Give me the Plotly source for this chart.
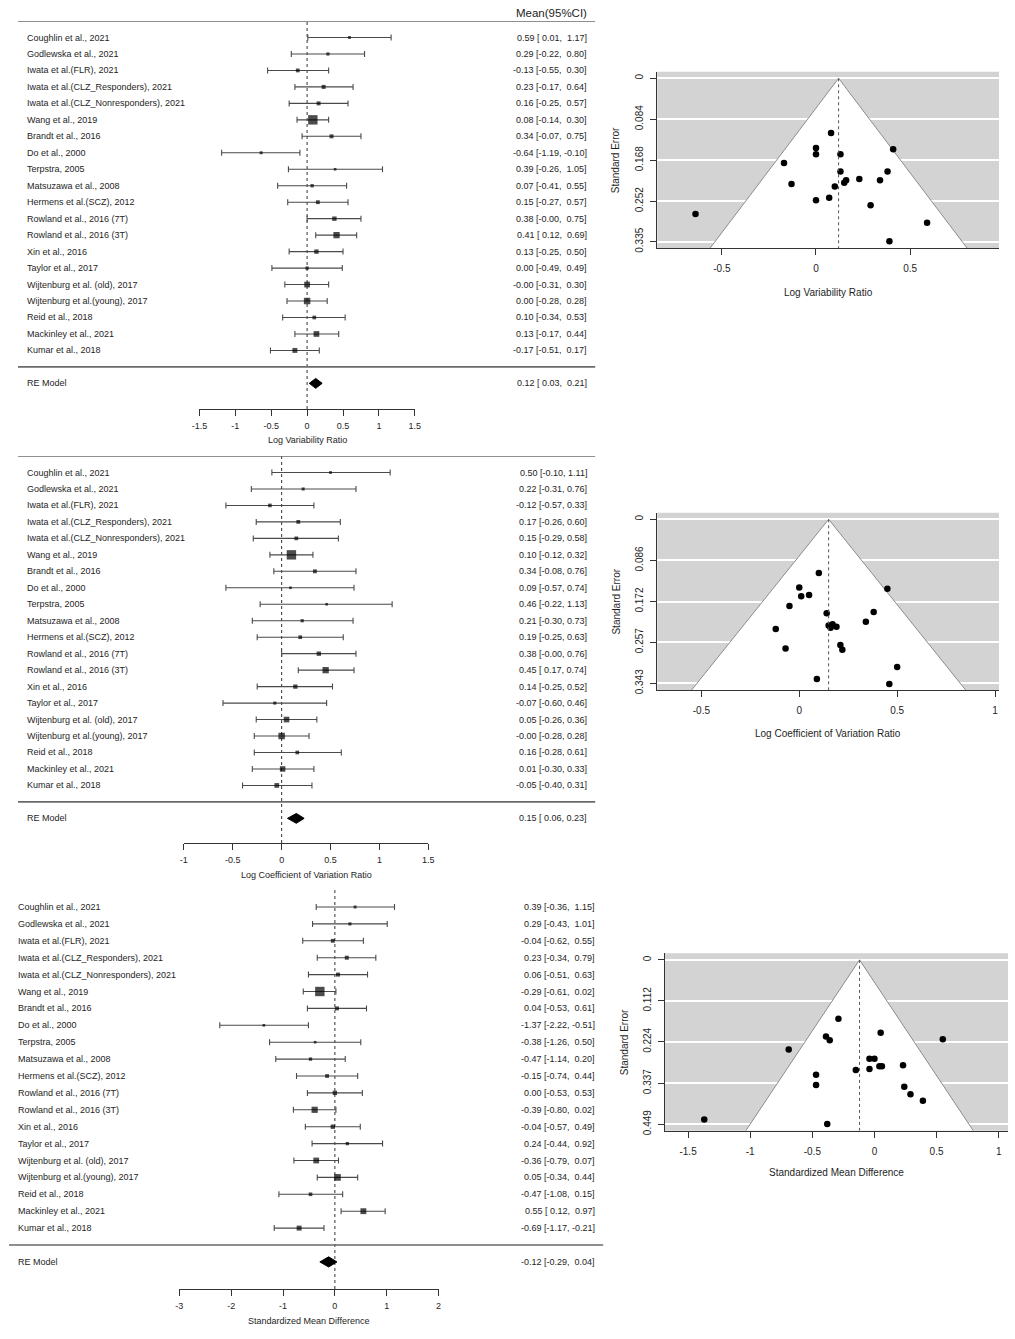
import plotly.graph_objects as go

W, H = 1015, 1339

# ---------------- data ----------------
studies = [
    "Coughlin et al., 2021", "Godlewska et al., 2021", "Iwata et al.(FLR), 2021",
    "Iwata et al.(CLZ_Responders), 2021", "Iwata et al.(CLZ_Nonresponders), 2021",
    "Wang et al., 2019", "Brandt et al., 2016", "Do et al., 2000", "Terpstra, 2005",
    "Matsuzawa et al., 2008", "Hermens et al.(SCZ), 2012", "Rowland et al., 2016 (7T)",
    "Rowland et al., 2016 (3T)", "Xin et al., 2016", "Taylor et al., 2017",
    "Wijtenburg et al. (old), 2017", "Wijtenburg et al.(young), 2017", "Reid et al., 2018",
    "Mackinley et al., 2021", "Kumar et al., 2018",
]

lvr_est = [0.59, 0.29, -0.13, 0.23, 0.16, 0.08, 0.34, -0.64, 0.39, 0.07,
           0.15, 0.38, 0.41, 0.13, 0.00, -0.0, 0.00, 0.10, 0.13, -0.17]
lvr_lo = [0.01, -0.22, -0.55, -0.17, -0.25, -0.14, -0.07, -1.19, -0.26, -0.41,
          -0.27, -0.0, 0.12, -0.25, -0.49, -0.31, -0.28, -0.34, -0.17, -0.51]
lvr_hi = [1.17, 0.80, 0.30, 0.64, 0.57, 0.30, 0.75, -0.10, 1.05, 0.55,
          0.57, 0.75, 0.69, 0.50, 0.49, 0.30, 0.28, 0.53, 0.44, 0.17]
lvr_re = [0.12, 0.03, 0.21]

lcvr_est = [0.50, 0.22, -0.12, 0.17, 0.15, 0.10, 0.34, 0.09, 0.46, 0.21,
            0.19, 0.38, 0.45, 0.14, -0.07, 0.05, -0.0, 0.16, 0.01, -0.05]
lcvr_lo = [-0.10, -0.31, -0.57, -0.26, -0.29, -0.12, -0.08, -0.57, -0.22, -0.30,
           -0.25, -0.0, 0.17, -0.25, -0.60, -0.26, -0.28, -0.28, -0.30, -0.40]
lcvr_hi = [1.11, 0.76, 0.33, 0.60, 0.58, 0.32, 0.76, 0.74, 1.13, 0.73,
           0.63, 0.76, 0.74, 0.52, 0.46, 0.36, 0.28, 0.61, 0.33, 0.31]
lcvr_re = [0.15, 0.06, 0.23]

smd_est = [0.39, 0.29, -0.04, 0.23, 0.06, -0.29, 0.04, -1.37, -0.38, -0.47,
           -0.15, 0.00, -0.39, -0.04, 0.24, -0.36, 0.05, -0.47, 0.55, -0.69]
smd_lo = [-0.36, -0.43, -0.62, -0.34, -0.51, -0.61, -0.53, -2.22, -1.26, -1.14,
          -0.74, -0.53, -0.80, -0.57, -0.44, -0.79, -0.34, -1.08, 0.12, -1.17]
smd_hi = [1.15, 1.01, 0.55, 0.79, 0.63, 0.02, 0.61, -0.51, 0.50, 0.20,
          0.44, 0.53, 0.02, 0.49, 0.92, 0.07, 0.44, 0.15, 0.97, -0.21]
smd_re = [-0.12, -0.29, 0.04]

forest1_ticks = [-1.5, -1, -0.5, 0, 0.5, 1, 1.5]
forest2_ticks = [-1, -0.5, 0, 0.5, 1, 1.5]
forest3_ticks = [-3, -2, -1, 0, 1, 2]
funnel1_xticks = [-0.5, 0, 0.5]
funnel2_xticks = [-0.5, 0, 0.5, 1]
funnel3_xticks = [-1.5, -1, -0.5, 0, 0.5, 1]
funnel1_yticks = ["0", "0.084", "0.168", "0.252", "0.335"]
funnel2_yticks = ["0", "0.086", "0.172", "0.257", "0.343"]
funnel3_yticks = ["0", "0.112", "0.224", "0.337", "0.449"]

titles = ["Log Variability Ratio", "Log Coefficient of Variation Ratio", "Standardized Mean Difference"]

FONT = "Liberation Sans, Arial, sans-serif"
TXT = "#1e1e1e"
NB = "\u00a0"

# placement correction measured from the rendered page
OFF_X, EFF_W = 8.0, 999.0
EFF_H = 1335.0

fig = go.Figure()
layout = {}
shapes = []
annotations = []


def px(x):
    return min(1.0, max(0.0, (x - OFF_X) / EFF_W))


def py(y):
    return min(1.0, max(0.0, 1 - y / EFF_H))


def names(i):
    if i == 1:
        return "xaxis", "yaxis", "x", "y"
    return f"xaxis{i}", f"yaxis{i}", f"x{i}", f"y{i}"


def tick_text(v):
    return f"{v:g}"


def fmt_col(vals):
    s = [f"{v:.2f}" for v in vals]
    w = max(len(t) for t in s)
    return [t.rjust(w) for t in s]


def forest(i, est, lo, hi, re, cfg):
    xa, ya, xn, yn = names(i)
    n = len(est)
    rows = [-k for k in range(n)]
    re_row = -(n + 1)
    se = [(h - l) / 3.92 for l, h in zip(lo, hi)]
    wts = [1 / s ** 2 for s in se]
    wmin, wmax = min(wts), max(wts)
    sizes = [2.6 + 6.8 * (v - wmin) / (wmax - wmin) for v in wts]

    fig.add_trace(go.Scatter(
        x=est, y=rows, mode="markers", xaxis=xn, yaxis=yn,
        marker=dict(symbol="square", size=sizes, color="black", line=dict(width=0)),
        error_x=dict(type="data", symmetric=False,
                     array=[h - e for e, h in zip(est, hi)],
                     arrayminus=[e - l for e, l in zip(est, lo)],
                     color="#4a4a4a", thickness=1.1, width=3),
        showlegend=False, hoverinfo="skip", cliponaxis=False))

    dh = 0.3
    fig.add_trace(go.Scatter(
        x=[re[1], re[0], re[2], re[0], re[1]],
        y=[re_row, re_row + dh, re_row, re_row - dh, re_row],
        mode="lines", fill="toself", fillcolor="black",
        line=dict(color="black", width=1), xaxis=xn, yaxis=yn,
        showlegend=False, hoverinfo="skip"))

    top_px = cfg["top"] - cfg["sp"]
    bottom_row = -(cfg["axis"] - cfg["top"]) / cfg["sp"]
    layout[ya] = dict(domain=[py(cfg["axis"]), py(top_px)], range=[bottom_row, 1],
                      visible=False, anchor=xn, fixedrange=True)
    ticks = cfg["ticks"]
    layout[xa] = dict(domain=[px(cfg["x0"]), px(cfg["x1"])], range=[ticks[0], ticks[-1]],
                      anchor=yn, showline=True, linecolor="#333", linewidth=1,
                      ticks="outside", ticklen=6, tickcolor="#333", tickwidth=1,
                      tickvals=ticks, ticktext=[tick_text(t) for t in ticks],
                      tickfont=dict(size=9, color=TXT, family=FONT),
                      ticklabelstandoff=2,
                      showgrid=False, zeroline=False, fixedrange=True)

    shapes.append(dict(type="line", xref=xn, yref=f"{yn} domain", x0=0, x1=0, y0=0, y1=1,
                       line=dict(color="#333", width=1, dash="dot"), layer="below"))
    if cfg["header_line"]:
        shapes.append(dict(type="line", xref="paper", yref=yn, x0=px(cfg["lx0"]), x1=px(cfg["lx1"]),
                           y0=1, y1=1, line=dict(color="#6a6a6a", width=1.6)))
    shapes.append(dict(type="line", xref="paper", yref=yn, x0=px(cfg["lx0"]), x1=px(cfg["lx1"]),
                       y0=re_row + 1, y1=re_row + 1, line=dict(color="#6a6a6a", width=1.6)))

    lo_s = fmt_col(lo + [re[1]])
    hi_s = fmt_col(hi + [re[2]])
    est_s = [f"{v:.2f}" for v in est + [re[0]]]
    labels = studies + ["RE Model"]
    ys = rows + [re_row]
    for k in range(n + 1):
        annotations.append(dict(xref="paper", yref=yn, x=px(cfg["lab"]), y=ys[k], text=labels[k],
                                xanchor="left", yanchor="middle", showarrow=False,
                                font=dict(size=9, color=TXT, family=FONT)))
        txt = f"{est_s[k]} [{lo_s[k]}, {hi_s[k]}]".replace(" ", NB)
        annotations.append(dict(xref="paper", yref=yn, x=px(cfg["val"]), y=ys[k], text=txt,
                                xanchor="right", yanchor="middle", showarrow=False,
                                font=dict(size=9, color=TXT, family=FONT)))
    annotations.append(dict(xref="paper", yref="paper", x=px((cfg["x0"] + cfg["x1"]) / 2),
                            y=py(cfg["title_y"]), text=cfg["title"], xanchor="center",
                            yanchor="middle", showarrow=False,
                            font=dict(size=9, color=TXT, family=FONT)))


def funnel(i, est, lo, hi, re, cfg):
    xa, ya, xn, yn = names(i)
    se = [(h - l) / 3.92 for l, h in zip(lo, hi)]
    ybot, ytop = cfg["yr"]
    c = re[0]
    shapes.append(dict(type="rect", xref=f"{xn} domain", yref=f"{yn} domain", x0=0, x1=1, y0=0, y1=1,
                       fillcolor="#d3d3d3", line=dict(width=0), layer="below"))
    fig.add_trace(go.Scatter(x=[c - 1.96 * ybot, c, c + 1.96 * ybot, c - 1.96 * ybot],
                             y=[ybot, 0, ybot, ybot], mode="lines", fill="toself",
                             fillcolor="white", line=dict(width=0), xaxis=xn, yaxis=yn,
                             showlegend=False, hoverinfo="skip"))
    fig.add_trace(go.Scatter(x=[c - 1.96 * ybot, c, c + 1.96 * ybot],
                             y=[ybot, 0, ybot], mode="lines",
                             line=dict(color="#8c8c8c", width=1), xaxis=xn, yaxis=yn,
                             showlegend=False, hoverinfo="skip"))
    shapes.append(dict(type="line", xref=xn, yref=yn, x0=c, x1=c, y0=0, y1=ybot,
                       line=dict(color="#555", width=1, dash="dot")))
    fig.add_trace(go.Scatter(x=est, y=se, mode="markers", xaxis=xn, yaxis=yn,
                             marker=dict(symbol="circle", size=6.5, color="black"),
                             showlegend=False, hoverinfo="skip", cliponaxis=False))
    layout[xa] = dict(domain=[px(cfg["x0"]), px(cfg["x1"])], range=list(cfg["xr"]),
                      anchor=yn, showline=True, linecolor="#333", linewidth=1,
                      ticks="outside", ticklen=6, tickcolor="#333",
                      tickvals=cfg["xticks"], ticktext=[tick_text(t) for t in cfg["xticks"]],
                      tickfont=dict(size=10, color=TXT, family=FONT), ticklabelstandoff=5,
                      showgrid=False, zeroline=False, fixedrange=True)
    yvals = [float(t) for t in cfg["yticks"]]
    layout[ya] = dict(domain=[py(cfg["y1"]), py(cfg["y0"])], range=[ybot, ytop],
                      anchor=xn, showline=True, linecolor="#333", linewidth=1,
                      ticks="outside", ticklen=6, tickcolor="#333",
                      tickvals=yvals, ticktext=cfg["yticks"], tickangle=-90,
                      tickfont=dict(size=10, color=TXT, family=FONT), ticklabelstandoff=3,
                      showgrid=True, gridcolor="white", gridwidth=2,
                      zeroline=False, fixedrange=True)
    annotations.append(dict(xref="paper", yref="paper", x=px((cfg["x0"] + cfg["x1"]) / 2),
                            y=py(cfg["xt_y"]), text=cfg["title"], xanchor="center",
                            yanchor="middle", showarrow=False,
                            font=dict(size=10, color=TXT, family=FONT)))
    annotations.append(dict(xref="paper", yref="paper", x=px(cfg["yt_x"]),
                            y=py((cfg["y0"] + cfg["y1"]) / 2), text="Standard Error",
                            textangle=-90, xanchor="center", yanchor="middle", showarrow=False,
                            font=dict(size=10, color=TXT, family=FONT)))


forest(1, lvr_est, lvr_lo, lvr_hi, lvr_re,
       dict(x0=199, x1=414, ticks=forest1_ticks, top=37.5, sp=16.47, axis=409,
            lab=25, val=587.5, lx0=18, lx1=594, header_line=True,
            title=titles[0], title_y=440))
forest(2, lcvr_est, lcvr_lo, lcvr_hi, lcvr_re,
       dict(x0=183.5, x1=427.5, ticks=forest2_ticks, top=472.5, sp=16.47, axis=843,
            lab=25, val=587.5, lx0=18, lx1=594, header_line=True,
            title=titles[1], title_y=875))
forest(3, smd_est, smd_lo, smd_hi, smd_re,
       dict(x0=179, x1=437.7, ticks=forest3_ticks, top=907, sp=16.9, axis=1289,
            lab=16, val=596, lx0=9, lx1=602, header_line=False,
            title=titles[2], title_y=1321))

funnel(4, lvr_est, lvr_lo, lvr_hi, lvr_re,
       dict(x0=656, x1=997, y0=71.7, y1=248.3, xr=(-0.843, 0.972), yr=(0.3485, -0.0135),
            xticks=funnel1_xticks, yticks=funnel1_yticks, title=titles[0],
            xt_y=292, yt_x=615))
funnel(5, lcvr_est, lcvr_lo, lcvr_hi, lcvr_re,
       dict(x0=656, x1=997, y0=512.7, y1=690, xr=(-0.725, 1.02), yr=(0.357, -0.0138),
            xticks=funnel2_xticks, yticks=funnel2_yticks, title=titles[1],
            xt_y=733, yt_x=615))
funnel(6, smd_est, smd_lo, smd_hi, smd_re,
       dict(x0=663.3, x1=1006, y0=953.3, y1=1130.7, xr=(-1.689, 1.075), yr=(0.467, -0.018),
            xticks=funnel3_xticks, yticks=funnel3_yticks, title=titles[2],
            xt_y=1172, yt_x=623))

annotations.append(dict(xref="paper", yref="paper", x=px(588), y=py(13), text="Mean(95%CI)",
                        xanchor="right", yanchor="middle", showarrow=False,
                        font=dict(size=11.5, color=TXT, family=FONT)))

fig.update_layout(
    width=W, height=H, margin=dict(l=0, r=0, t=0, b=0),
    paper_bgcolor="white", plot_bgcolor="white",
    showlegend=False, shapes=shapes, annotations=annotations,
    font=dict(family=FONT, color=TXT),
)
fig.update_layout(layout)

fig.write_html("out.html", config={"displayModeBar": False},
               post_script="document.body.style.margin='0';document.body.style.overflow='hidden';")
